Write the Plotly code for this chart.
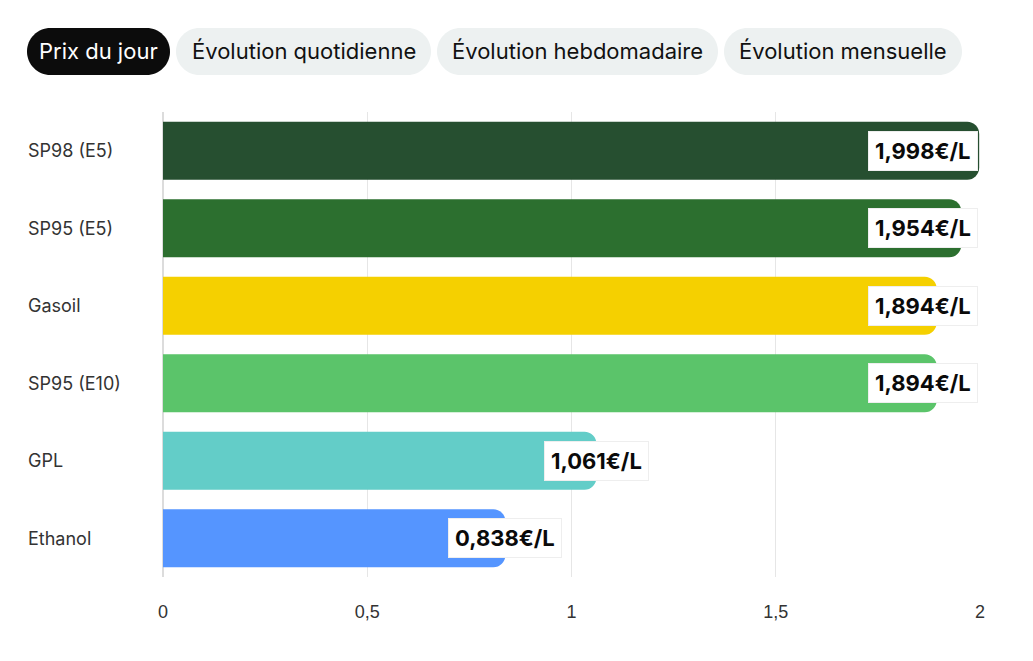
import plotly.graph_objects as go

categories = ["SP98 (E5)", "SP95 (E5)", "Gasoil", "SP95 (E10)", "GPL", "Ethanol"]
prices = [1.998, 1.954, 1.894, 1.894, 1.061, 0.838]
colors = ["#264F30", "#2C6F2F", "#F5D000", "#5BC46A", "#63CDC8", "#5595FF"]
tab_labels = ["Prix du jour", "Évolution quotidienne", "Évolution hebdomadaire", "Évolution mensuelle"]
tick_vals = [0, 0.5, 1, 1.5, 2]
tick_text = ["0", "0,5", "1", "1,5", "2"]

W, H = 1033, 661
L, R, T, B = 163, 53, 112, 84
PW, PH = W - L - R, H - T - B
XMAX = 2

def px2paper(x, y):
    return (x - L) / PW, (H - B - y) / PH

def pill(x0, y0, x1, y1):
    r = (y1 - y0) / 2
    k = 0.552
    def p(x, y):
        a, b = px2paper(x, y)
        return f"{a:.5f},{b:.5f}"
    return (f"M {p(x0 + r, y0)} L {p(x1 - r, y0)} "
            f"C {p(x1 - r + r*k, y0)} {p(x1, y0 + r - r*k)} {p(x1, y0 + r)} "
            f"C {p(x1, y0 + r + r*k)} {p(x1 - r + r*k, y1)} {p(x1 - r, y1)} "
            f"L {p(x0 + r, y1)} "
            f"C {p(x0 + r - r*k, y1)} {p(x0, y0 + r + r*k)} {p(x0, y0 + r)} "
            f"C {p(x0, y0 + r - r*k)} {p(x0 + r - r*k, y0)} {p(x0 + r, y0)} Z")

fig = go.Figure()
fig.add_trace(go.Bar(
    y=categories, x=prices, orientation="h",
    marker=dict(color=colors, line=dict(width=0)),
    width=0.75, hoverinfo="skip",
))

annotations = []
half_box = 56 / PW * XMAX  # half label width in data units
for c, v in zip(categories, prices):
    if v + half_box > XMAX:
        ax, anchor, shift = XMAX, "right", -2
    else:
        ax, anchor, shift = v, "center", 0
    annotations.append(dict(
        x=ax, y=c, xref="x", yref="y", xanchor=anchor, yanchor="middle", xshift=shift,
        text="<b>" + f"{v:.3f}".replace(".", ",") + "€/L</b>",
        showarrow=False, bgcolor="white", bordercolor="#eeeeee", borderwidth=1,
        borderpad=6, font=dict(family="Inter, Noto Sans, sans-serif", size=22, color="#0a0a0a"),
    ))
    annotations.append(dict(
        x=(26 - L) / PW, y=c, xref="paper", yref="y", xanchor="left", yanchor="middle",
        text=c, showarrow=False,
        font=dict(family="Inter, Noto Sans, sans-serif", size=18, color="#333333"),
    ))

shapes = []
tab_px = [(27, 170), (176, 431), (437, 718), (724, 962)]
for i, (lab, (x0, x1)) in enumerate(zip(tab_labels, tab_px)):
    active = i == 0
    shapes.append(dict(type="path", xref="paper", yref="paper", path=pill(x0, 28, x1, 75),
                       fillcolor="#0c0c0c" if active else "#EDF1F1", line=dict(width=0), layer="above"))
    cx, cy = px2paper((x0 + x1) / 2, 51.5)
    annotations.append(dict(
        x=cx, y=cy, xref="paper", yref="paper", xanchor="center", yanchor="middle",
        text=lab, showarrow=False,
        font=dict(family="Inter, Noto Sans, sans-serif", size=22, color="white" if active else "#111111"),
    ))

fig.update_layout(
    width=W, height=H,
    margin=dict(l=L, r=R, t=T, b=B),
    paper_bgcolor="white", plot_bgcolor="white",
    showlegend=False,
    barcornerradius=12,
    annotations=annotations, shapes=shapes,
    xaxis=dict(range=[0, XMAX], tickvals=tick_vals, ticktext=tick_text,
               showgrid=True, gridcolor="#e6e6e6", gridwidth=1, zeroline=True,
               zerolinecolor="#dcdcdc", zerolinewidth=2, showline=False, ticks="",
               tickfont=dict(family="Liberation Sans Narrow, Arial Narrow, sans-serif", size=18, color="#333333"),
               ticklabelstandoff=22, fixedrange=True),
    yaxis=dict(categoryorder="array", categoryarray=categories, autorange="reversed",
               showticklabels=False, showgrid=False, zeroline=False, fixedrange=True),
)

fig.write_html("out.html")
